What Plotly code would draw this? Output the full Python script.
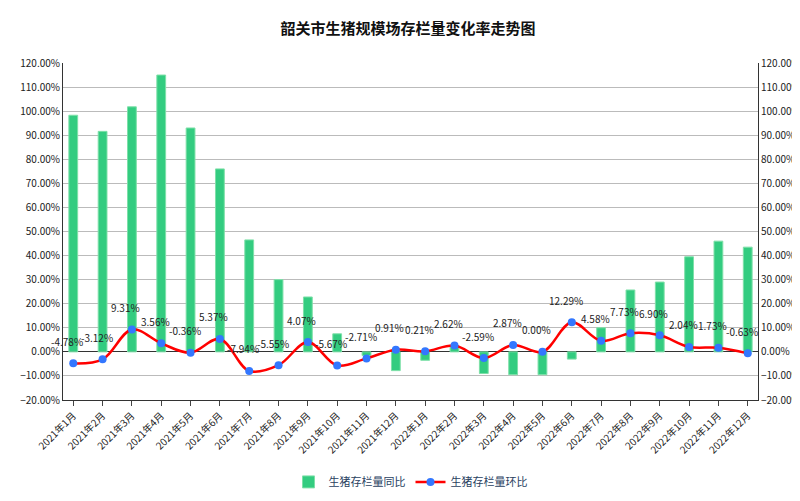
import plotly.graph_objects as go

months = [f"2021年{m}月" for m in range(1, 13)] + [f"2022年{m}月" for m in range(1, 13)]
yoy = [98.3, 91.6, 101.8, 115.0, 93.0, 76.0, 46.5, 30.0, 22.8, 7.5, -1.5, -7.8,
       -3.5, 2.5, -9.0, -9.5, -9.5, -3.0, 10.0, 25.7, 29.0, 39.5, 46.0, 43.5]
mom = [-4.78, -3.12, 9.31, 3.56, -0.36, 5.37, -7.94, -5.55, 4.07, -5.67, -2.71, 0.91,
       0.21, 2.62, -2.59, 2.87, 0.00, 12.29, 4.58, 7.73, 6.90, 2.04, 1.73, -0.63]

fig = go.Figure()
fig.add_trace(go.Bar(x=months, y=[v / 100 for v in yoy], name="生猪存栏量同比",
                     marker=dict(color="#33CC80", line=dict(color="#7EE0A8", width=1)),
                     width=0.3))
fig.add_trace(go.Scatter(x=months, y=[v / 100 for v in mom], name="生猪存栏量环比",
                         mode="lines+markers", line=dict(color="#FF0000", width=2.5, shape="spline"),
                         marker=dict(color="#3377FF", size=8)))
for m, v in zip(months, mom):
    fig.add_annotation(x=m, y=v / 100, text=f"{v:.2f}%", showarrow=False,
                       xshift=-6, yshift=22, font=dict(size=10, color="#222"))
fig.add_trace(go.Scatter(x=months, y=[v / 100 for v in mom], yaxis="y2", mode="markers",
                         marker=dict(opacity=0), showlegend=False, hoverinfo="skip"))

axis_y = dict(range=[-0.2, 1.2], dtick=0.1, tickformat=".2%", gridcolor="#BBBBBB",
              showline=True, linecolor="#333", tickfont=dict(size=10, color="#222"),
              zeroline=True, zerolinecolor="#333", zerolinewidth=1, automargin=False)
fig.update_layout(
    title=dict(text="<b>韶关市生猪规模场存栏量变化率走势图</b>", x=0.5, y=0.97,
               font=dict(size=15, color="#111")),
    width=800, height=501, plot_bgcolor="white", paper_bgcolor="white",
    font=dict(family="Noto Sans CJK SC"),
    margin=dict(l=55, r=50, t=55, b=104),
    xaxis=dict(tickangle=-45, tickfont=dict(size=10, color="#222"), showline=True,
               linecolor="#333", ticks="outside", range=[-0.35, 23.35], automargin=False),
    yaxis=axis_y,
    yaxis2=dict(axis_y, overlaying="y", side="right", showgrid=False),
    legend=dict(orientation="h", x=0.5, xanchor="center", y=-0.2, yanchor="top",
                font=dict(size=11)),
    bargap=0.5,
)
fig.write_html("out.html")
